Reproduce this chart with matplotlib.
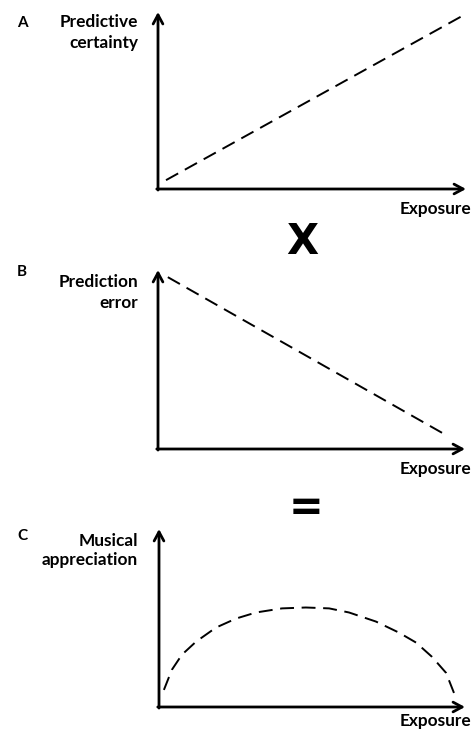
import matplotlib
matplotlib.use("Agg")
import matplotlib.pyplot as plt

plt.rcParams['font.family'] = ['Lato', 'DejaVu Sans']
plt.rcParams['lines.scale_dashes'] = False

W, H = 474, 735

# ---- data (normalised exposure 0..1, value 0..1) ----
certainty_x = [0.026, 0.987]
certainty_y = [0.05, 0.977]

error_x = [0.032, 0.938]
error_y = [0.96, 0.078]

appreciation_x = [0.016, 0.042, 0.075, 0.121, 0.186, 0.252, 0.317, 0.402, 0.480,
                  0.556, 0.621, 0.709, 0.784, 0.840, 0.892, 0.938, 0.964]
appreciation_y = [0.096, 0.209, 0.294, 0.367, 0.446, 0.497, 0.531, 0.554, 0.559,
                  0.554, 0.531, 0.480, 0.418, 0.362, 0.282, 0.192, 0.079]

panel_letters = ["A", "B", "C"]
ylabels = [["Predictive", "certainty"], ["Prediction", "error"], ["Musical", "appreciation"]]
xlabel = "Exposure"
operators = ["X", "="]

fig = plt.figure(figsize=(W / 100, H / 100), dpi=100)
fig.patch.set_facecolor("white")


def fx(px):
    return px / W


def fy(py):
    return 1 - py / H


# panel geometry in pixels: (origin x, origin y, top y, right x)
panels = [(158, 189, 12, 466), (158, 449, 270, 465), (159, 707, 529, 465)]
series = [(certainty_x, certainty_y), (error_x, error_y), (appreciation_x, appreciation_y)]
letter_y = [23, 272, 536]
ylab_y = [(22, 43), (282, 303), (541, 560)]
xlab_y = [209, 469, 721]

for i, ((ox, oy, ty, rx), (sx, sy)) in enumerate(zip(panels, series)):
    ax = fig.add_axes([fx(ox), fy(oy), (rx - ox) / W, (oy - ty) / H])
    ax.set_xlim(0, 1)
    ax.set_ylim(0, 1)
    ax.axis("off")
    arrow = dict(arrowstyle="->,head_length=0.65,head_width=0.35", lw=2.0, color="black",
                 shrinkA=0, shrinkB=0)
    ax.annotate("", xy=(1, 0), xytext=(-0.004, 0), xycoords="axes fraction",
                arrowprops=arrow, annotation_clip=False)
    ax.annotate("", xy=(0, 1), xytext=(0, -0.006), xycoords="axes fraction",
                arrowprops=arrow, annotation_clip=False)
    ax.plot(sx, sy, color="black", lw=1.4, dashes=(10, 5.5), clip_on=False,
            solid_joinstyle="round", dash_joinstyle="round")

    fig.text(fx(22), fy(letter_y[i]), panel_letters[i], ha="center", va="center",
             fontsize=11, fontweight="bold")
    for lab, yy in zip(ylabels[i], ylab_y[i]):
        fig.text(fx(138), fy(yy), lab, ha="right", va="center",
                 fontsize=12.4, fontweight="bold")
    fig.text(fx(471), fy(xlab_y[i]), xlabel, ha="right", va="center",
             fontsize=12.4, fontweight="bold")

fig.text(fx(302), fy(242), operators[0], ha="center", va="center",
         fontsize=30, fontweight="heavy", family=["DejaVu Sans"])
fig.text(fx(306), fy(508), operators[1], ha="center", va="center",
         fontsize=30, fontweight="bold", family=["DejaVu Sans"])

fig.savefig("out.png", dpi=100, facecolor="white")
